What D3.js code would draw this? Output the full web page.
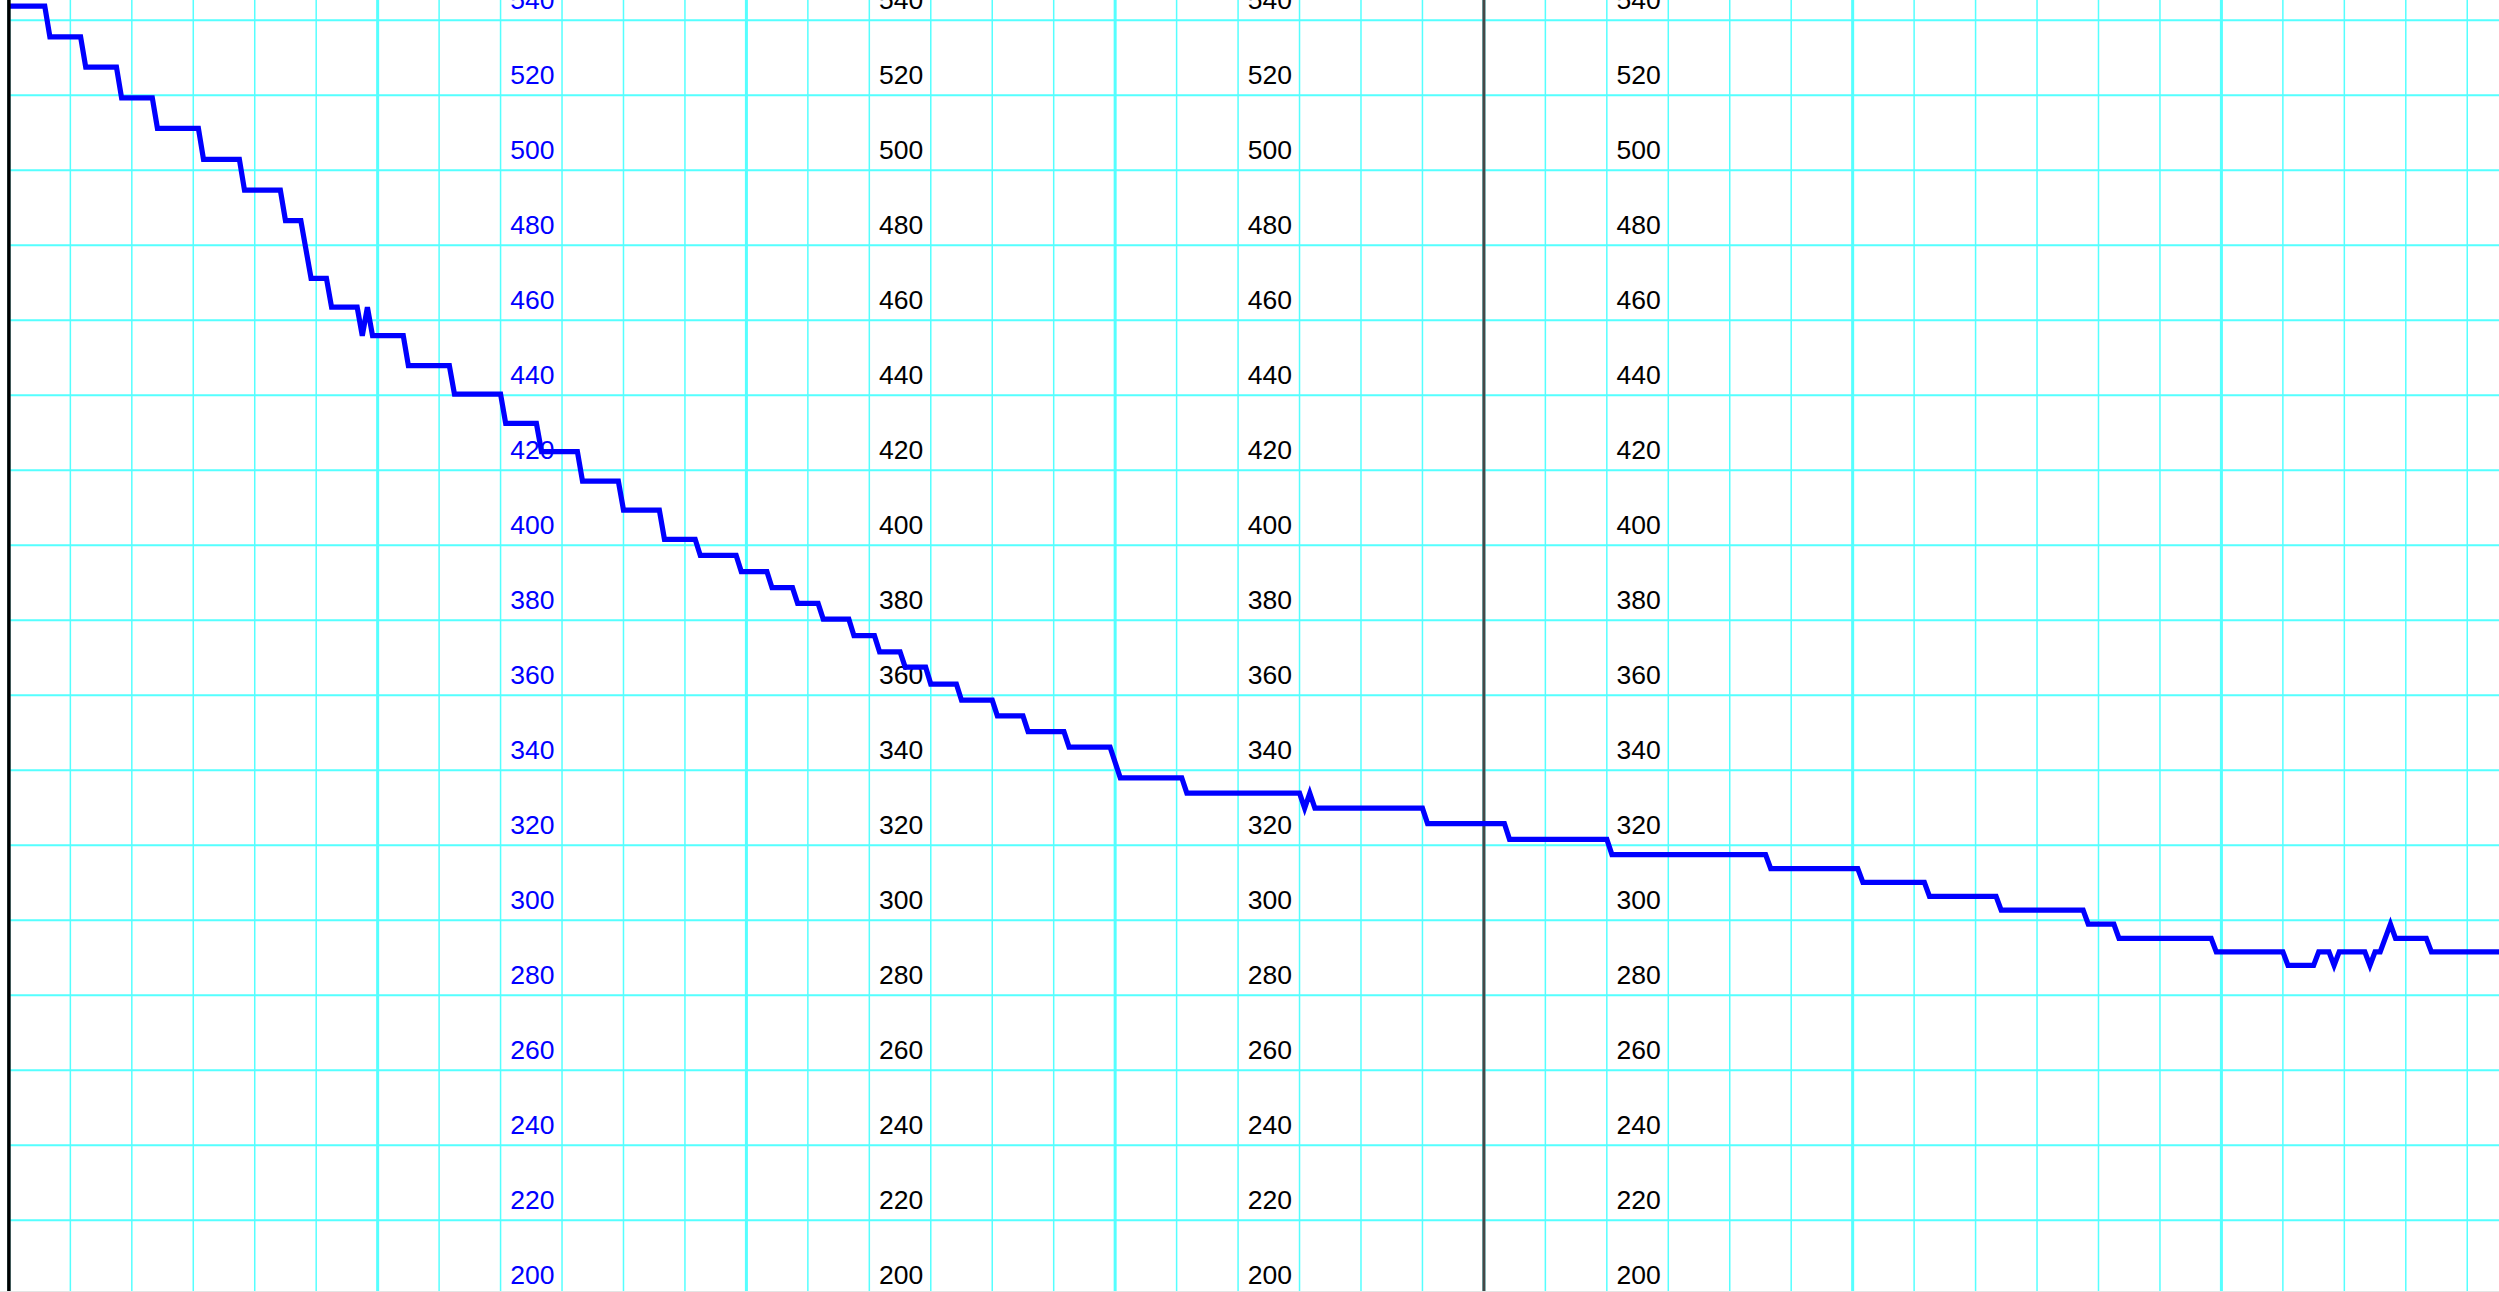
<!DOCTYPE html>
<html>
<head>
<meta charset="utf-8">
<script src="https://cdn.jsdelivr.net/npm/d3@7"></script>
<style>
  html, body { margin: 0; padding: 0; background: #ffffff; overflow: hidden; }
  svg { display: block; }
</style>
</head>
<body>
<div id="chart"></div>
<script>
// level readings, one plateau per entry (start, end, value); 20 min sampling
var stepStart = [
  "2024-02-01 00:00", "2024-02-01 02:40", "2024-02-01 05:00", "2024-02-01 07:20", "2024-02-01 09:40",
  "2024-02-01 12:40", "2024-02-01 15:20", "2024-02-01 18:00", "2024-02-01 19:40", "2024-02-01 21:00",
  "2024-02-01 23:00", "2024-02-01 23:20", "2024-02-01 23:40", "2024-02-02 02:00", "2024-02-02 05:00",
  "2024-02-02 08:20", "2024-02-02 10:40", "2024-02-02 13:20", "2024-02-02 16:00", "2024-02-02 18:40",
  "2024-02-02 21:00", "2024-02-02 23:40", "2024-02-03 01:40", "2024-02-03 03:20", "2024-02-03 05:00",
  "2024-02-03 07:00", "2024-02-03 08:40", "2024-02-03 10:20", "2024-02-03 12:00", "2024-02-03 14:00",
  "2024-02-03 16:20", "2024-02-03 18:20", "2024-02-03 21:00", "2024-02-04 00:20", "2024-02-04 04:40",
  "2024-02-04 12:20", "2024-02-04 12:40", "2024-02-04 13:00", "2024-02-04 20:20", "2024-02-05 01:40",
  "2024-02-05 08:20", "2024-02-05 18:40", "2024-02-06 00:40", "2024-02-06 05:00", "2024-02-06 09:40",
  "2024-02-06 15:20", "2024-02-06 17:20", "2024-02-06 23:40", "2024-02-07 04:20", "2024-02-07 06:20",
  "2024-02-07 07:20", "2024-02-07 07:40", "2024-02-07 09:40", "2024-02-07 10:00", "2024-02-07 11:00",
  "2024-02-07 11:20", "2024-02-07 13:40"
];
var stepEnd = [
  "2024-02-01 02:20", "2024-02-01 04:40", "2024-02-01 07:00", "2024-02-01 09:20", "2024-02-01 12:20",
  "2024-02-01 15:00", "2024-02-01 17:40", "2024-02-01 19:00", "2024-02-01 20:40", "2024-02-01 22:40",
  "2024-02-01 23:00", "2024-02-01 23:20", "2024-02-02 01:40", "2024-02-02 04:40", "2024-02-02 08:00",
  "2024-02-02 10:20", "2024-02-02 13:00", "2024-02-02 15:40", "2024-02-02 18:20", "2024-02-02 20:40",
  "2024-02-02 23:20", "2024-02-03 01:20", "2024-02-03 03:00", "2024-02-03 04:40", "2024-02-03 06:40",
  "2024-02-03 08:20", "2024-02-03 10:00", "2024-02-03 11:40", "2024-02-03 13:40", "2024-02-03 16:00",
  "2024-02-03 18:00", "2024-02-03 20:40", "2024-02-03 23:40", "2024-02-04 04:20", "2024-02-04 12:00",
  "2024-02-04 12:20", "2024-02-04 12:40", "2024-02-04 20:00", "2024-02-05 01:20", "2024-02-05 08:00",
  "2024-02-05 18:20", "2024-02-06 00:20", "2024-02-06 04:40", "2024-02-06 09:20", "2024-02-06 15:00",
  "2024-02-06 17:00", "2024-02-06 23:20", "2024-02-07 04:00", "2024-02-07 06:00", "2024-02-07 07:00",
  "2024-02-07 07:20", "2024-02-07 09:20", "2024-02-07 09:40", "2024-02-07 10:20", "2024-02-07 11:00",
  "2024-02-07 13:20", "2024-02-07 18:20"
];
var stepLevel = [
  543.8, 535.6, 527.5, 519.3, 511.2,
  502.9, 494.7, 486.6, 471.2, 463.5,
  455.9, 463.5, 455.9, 447.9, 440.3,
  432.5, 425.0, 417.1, 409.4, 401.6,
  397.3, 393.0, 388.7, 384.5, 380.3,
  375.9, 371.6, 367.5, 363.0, 358.7,
  354.5, 350.3, 346.2, 338.0, 333.9,
  329.9, 333.9, 329.9, 325.8, 321.6,
  317.5, 313.8, 310.1, 306.4, 302.7,
  299.0, 295.2, 291.6, 288.0, 291.6,
  288.0, 291.6, 288.0, 291.6, 299.0,
  295.2, 291.6
];

var levelTicks = [200, 220, 240, 260, 280, 300, 320, 340, 360, 380, 400, 420, 440, 460, 480, 500, 520, 540];
var labelTimes = ["2024-02-02 12:00", "2024-02-03 12:00", "2024-02-04 12:00", "2024-02-05 12:00"];
var viewStart = "2024-02-01 00:00";
var viewEnd = "2024-02-07 18:04";
var markerTime = "2024-02-05 00:00";

var width = 2499;
var height = 1292;
var plotLeft = 8.9;
var plotTop = 20.3;
var plotBottom = 1295.3;

var gridColor = "#55ffff";
var lineColor = "#0000ff";
var labelFont = "'Liberation Sans', Arial, Helvetica, sans-serif";

var parseTime = d3.timeParse("%Y-%m-%d %H:%M");
var t0 = parseTime(viewStart);
var t1 = parseTime(viewEnd);

var x = d3.scaleTime().domain([t0, t1]).range([plotLeft, width]);
var y = d3.scaleLinear().domain([200, 540]).range([plotBottom, plotTop]);

var points = [];
for (var i = 0; i < stepLevel.length; i++) {
    points.push({ t: parseTime(stepStart[i]), v: stepLevel[i] });
    if (stepEnd[i] !== stepStart[i]) {
        points.push({ t: parseTime(stepEnd[i]), v: stepLevel[i] });
    }
}

var svg = d3.select("#chart")
            .append("svg")
            .attr("width", width)
            .attr("height", height)
            .style("background", "#ffffff");

// 4-hour grid
svg.append("g")
   .selectAll("line")
   .data(d3.timeHour.every(4).range(t0, t1))
   .enter()
   .append("line")
   .attr("x1", function(d) { return x(d); })
   .attr("x2", function(d) { return x(d); })
   .attr("y1", 0)
   .attr("y2", height)
   .attr("stroke", gridColor)
   .attr("stroke-width", 1.5);

// level grid
svg.append("g")
   .selectAll("line")
   .data(levelTicks)
   .enter()
   .append("line")
   .attr("x1", plotLeft)
   .attr("x2", width)
   .attr("y1", function(d) { return y(d); })
   .attr("y2", function(d) { return y(d); })
   .attr("stroke", gridColor)
   .attr("stroke-width", 2);

// day grid
svg.append("g")
   .selectAll("line")
   .data(d3.timeDay.range(t0, t1))
   .enter()
   .append("line")
   .attr("x1", function(d) { return x(d); })
   .attr("x2", function(d) { return x(d); })
   .attr("y1", 0)
   .attr("y2", height)
   .attr("stroke", gridColor)
   .attr("stroke-width", 3);

// week marker
svg.append("line")
   .attr("x1", x(parseTime(markerTime)))
   .attr("x2", x(parseTime(markerTime)))
   .attr("y1", 0)
   .attr("y2", height)
   .attr("stroke", "#474747")
   .attr("stroke-width", 3);

// repeated level labels
labelTimes.forEach(function(lt, col) {
    svg.append("g")
       .selectAll("text")
       .data(levelTicks)
       .enter()
       .append("text")
       .attr("x", x(parseTime(lt)) - 7.5)
       .attr("y", function(d) { return y(d) - 11.5; })
       .attr("text-anchor", "end")
       .attr("font-family", labelFont)
       .attr("font-size", "26.5px")
       .attr("fill", col === 0 ? "#0000ff" : "#000000")
       .text(function(d) { return d; });
});

var line = d3.line()
             .x(function(d) { return x(d.t); })
             .y(function(d) { return y(d.v); });

svg.append("path")
   .datum(points)
   .attr("d", line)
   .attr("fill", "none")
   .attr("stroke", lineColor)
   .attr("stroke-width", 5.2)
   .attr("stroke-linejoin", "miter");

// left axis
svg.append("line")
   .attr("x1", x(t0))
   .attr("x2", x(t0))
   .attr("y1", 0)
   .attr("y2", height)
   .attr("stroke", "#000000")
   .attr("stroke-width", 3.5);

svg.append("line")
   .attr("x1", 0)
   .attr("x2", width)
   .attr("y1", height - 0.5)
   .attr("y2", height - 0.5)
   .attr("stroke", "#e4e4e4")
   .attr("stroke-width", 1);
</script>
</body>
</html>
